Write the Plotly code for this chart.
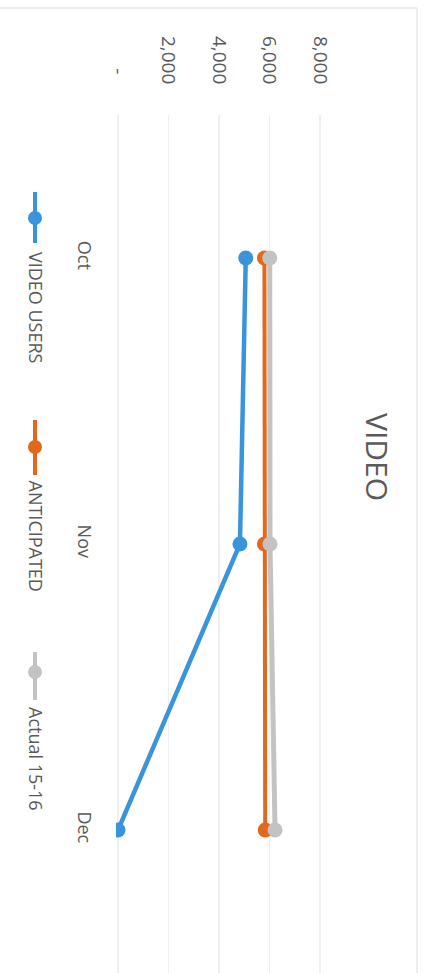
import plotly.graph_objects as go

months = ["Oct", "Nov", "Dec"]
video_users = [5060, 4830, 0]
anticipated = [5800, 5800, 5830]
actual_15_16 = [6010, 6020, 6220]
series_names = ["VIDEO USERS", "ANTICIPATED", "Actual 15-16"]
series_colors = ["#3a94dc", "#e2691c", "#c3c3c3"]
series_widths = [4.5, 4, 5]
value_ticks = [0, 2000, 4000, 6000, 8000]
value_ticktext = ["-\u00a0\u00a0", "2,000", "4,000", "6,000", "8,000"]
title_text = "VIDEO"

W, H = 425, 973
L, R, T, B = 116, 103, 115, 0
PW, PH = W - L - R, H - T - B


def px(x):
    return (x - L) / PW


def py(y):
    return (H - B - y) / PH


FONT = "Open Sans, Roboto, sans-serif"
TXT = "#5a5a5a"

fig = go.Figure()
for name, vals, col, wd in zip(series_names, [video_users, anticipated, actual_15_16],
                               series_colors, series_widths):
    fig.add_trace(go.Scatter(
        x=vals, y=months, mode="lines+markers", name=name,
        line=dict(color=col, width=wd),
        marker=dict(color=col, size=15),
        showlegend=False, hoverinfo="skip",
    ))

shapes = []
annotations = []

# manual vertical legend
leg_x = 35
leg_items = [(192, 243, 218, 250), (420, 475, 447, 478), (652, 700, 672, 705)]
for (y0, y1, ym, yt), name, col in zip(leg_items, series_names, series_colors):
    shapes.append(dict(type="line", xref="paper", yref="paper",
                       x0=px(leg_x), x1=px(leg_x), y0=py(y0), y1=py(y1),
                       line=dict(color=col, width=4)))
    shapes.append(dict(type="circle", xref="paper", yref="paper",
                       xsizemode="pixel", ysizemode="pixel",
                       xanchor=px(leg_x), yanchor=py(ym),
                       x0=-7, x1=7, y0=-7, y1=7,
                       fillcolor=col, line=dict(color=col, width=0)))
    annotations.append(dict(text=name, xref="paper", yref="paper",
                            x=px(leg_x + 1), y=py(yt), xanchor="center", yanchor="top",
                            textangle=90, showarrow=False,
                            font=dict(family=FONT, size=18, color=TXT)))

# title
annotations.append(dict(text=title_text, xref="paper", yref="paper",
                        x=px(378), y=py(457), xanchor="center", yanchor="middle",
                        textangle=90, showarrow=False,
                        font=dict(family=FONT, size=30, color=TXT)))

# chart border (top and right edges visible in scan)
shapes.append(dict(type="line", xref="paper", yref="paper",
                   x0=px(0), x1=px(417), y0=py(8), y1=py(8),
                   line=dict(color="#e1e5ee", width=1.5)))
shapes.append(dict(type="line", xref="paper", yref="paper",
                   x0=px(417), x1=px(417), y0=py(8), y1=py(H + 5),
                   line=dict(color="#e5e8ef", width=1.5)))

fig.update_layout(
    width=W, height=H,
    margin=dict(l=L, r=R, t=T, b=B, pad=0),
    paper_bgcolor="white", plot_bgcolor="white",
    shapes=shapes, annotations=annotations,
    showlegend=False,
    xaxis=dict(range=[-80, 8080], side="top", tickvals=value_ticks, ticktext=value_ticktext,
               tickangle=90, showgrid=True, gridcolor="#eceff5", gridwidth=1.2,
               zeroline=False, showline=False, ticks="outside", ticklen=23,
               tickcolor="rgba(0,0,0,0)",
               tickfont=dict(family=FONT, size=19, color=TXT)),
    yaxis=dict(type="category", categoryarray=months, range=[2.5, -0.5],
               tickangle=90, showgrid=False, zeroline=False, showline=False,
               ticks="outside", ticklen=15, tickcolor="rgba(0,0,0,0)",
               tickfont=dict(family=FONT, size=18, color=TXT)),
)

fig.write_html("out.html", config={"displayModeBar": False, "staticPlot": True},
               post_script="document.body.style.margin='0px';document.body.style.overflow='hidden';")
